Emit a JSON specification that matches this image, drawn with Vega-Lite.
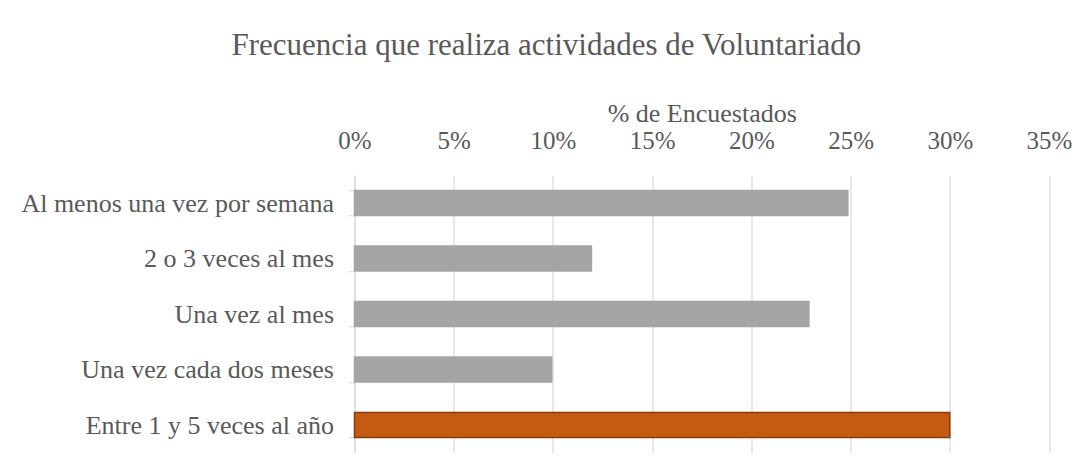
{
  "$schema": "https://vega.github.io/schema/vega-lite/v6.json",
  "autosize": {"type": "none"},
  "width": 694.5,
  "height": 277.5,
  "padding": {"left": 354.5, "top": 175.25, "right": 35, "bottom": 19.25},
  "background": "white",
  "config": {
    "view": {"stroke": null},
    "font": "Liberation Serif",
    "text": {"font": "Liberation Serif"}
  },
  "title": {
    "text": "Frecuencia que realiza actividades de Voluntariado",
    "font": "Liberation Serif",
    "fontSize": 31,
    "fontWeight": "normal",
    "color": "#595959",
    "anchor": "middle",
    "frame": "bounds",
    "offset": 38
  },
  "data": {
    "values": [
      {"frecuencia": "Al menos una vez por semana", "pct": 24.86},
      {"frecuencia": "2 o 3 veces al mes", "pct": 11.94},
      {"frecuencia": "Una vez al mes", "pct": 22.9},
      {"frecuencia": "Una vez cada dos meses", "pct": 9.94},
      {"frecuencia": "Entre 1 y 5 veces al año", "pct": 30.0}
    ]
  },
  "mark": {"type": "bar", "strokeWidth": 1.5},
  "encoding": {
    "y": {
      "field": "frecuencia",
      "type": "nominal",
      "sort": null,
      "scale": {"paddingInner": 0.55, "paddingOuter": 0.275},
      "axis": {
        "title": null,
        "labelFont": "Liberation Serif",
        "labelFontSize": 26,
        "labelColor": "#595959",
        "labelPadding": 15,
        "tickSize": 6,
        "tickColor": "#d9d9d9",
        "tickBand": "extent",
        "domainColor": "#d9d9d9",
        "grid": false,
        "labelLimit": 400
      }
    },
    "x": {
      "field": "pct",
      "type": "quantitative",
      "scale": {"domain": [0, 35], "nice": false},
      "axis": {
        "orient": "top",
        "title": "% de Encuestados",
        "titleFont": "Liberation Serif",
        "titleFontSize": 26,
        "titleFontWeight": "normal",
        "titleColor": "#595959",
        "titlePadding": 2,
        "values": [0, 5, 10, 15, 20, 25, 30, 35],
        "labelExpr": "datum.value + '%'",
        "labelFont": "Liberation Serif",
        "labelFontSize": 25,
        "labelColor": "#595959",
        "labelPadding": 22,
        "labelFlush": false,
        "ticks": false,
        "domain": false,
        "grid": true,
        "gridColor": "#d9d9d9",
        "gridWidth": 1.2
      }
    },
    "color": {
      "condition": {"test": "datum.frecuencia === 'Entre 1 y 5 veces al año'", "value": "#c55a11"},
      "value": "#a5a5a5"
    },
    "stroke": {
      "condition": {"test": "datum.frecuencia === 'Entre 1 y 5 veces al año'", "value": "#843c0c"},
      "value": "#a5a5a5"
    },
    "tooltip": [{"field": "frecuencia"}, {"field": "pct"}]
  }
}
